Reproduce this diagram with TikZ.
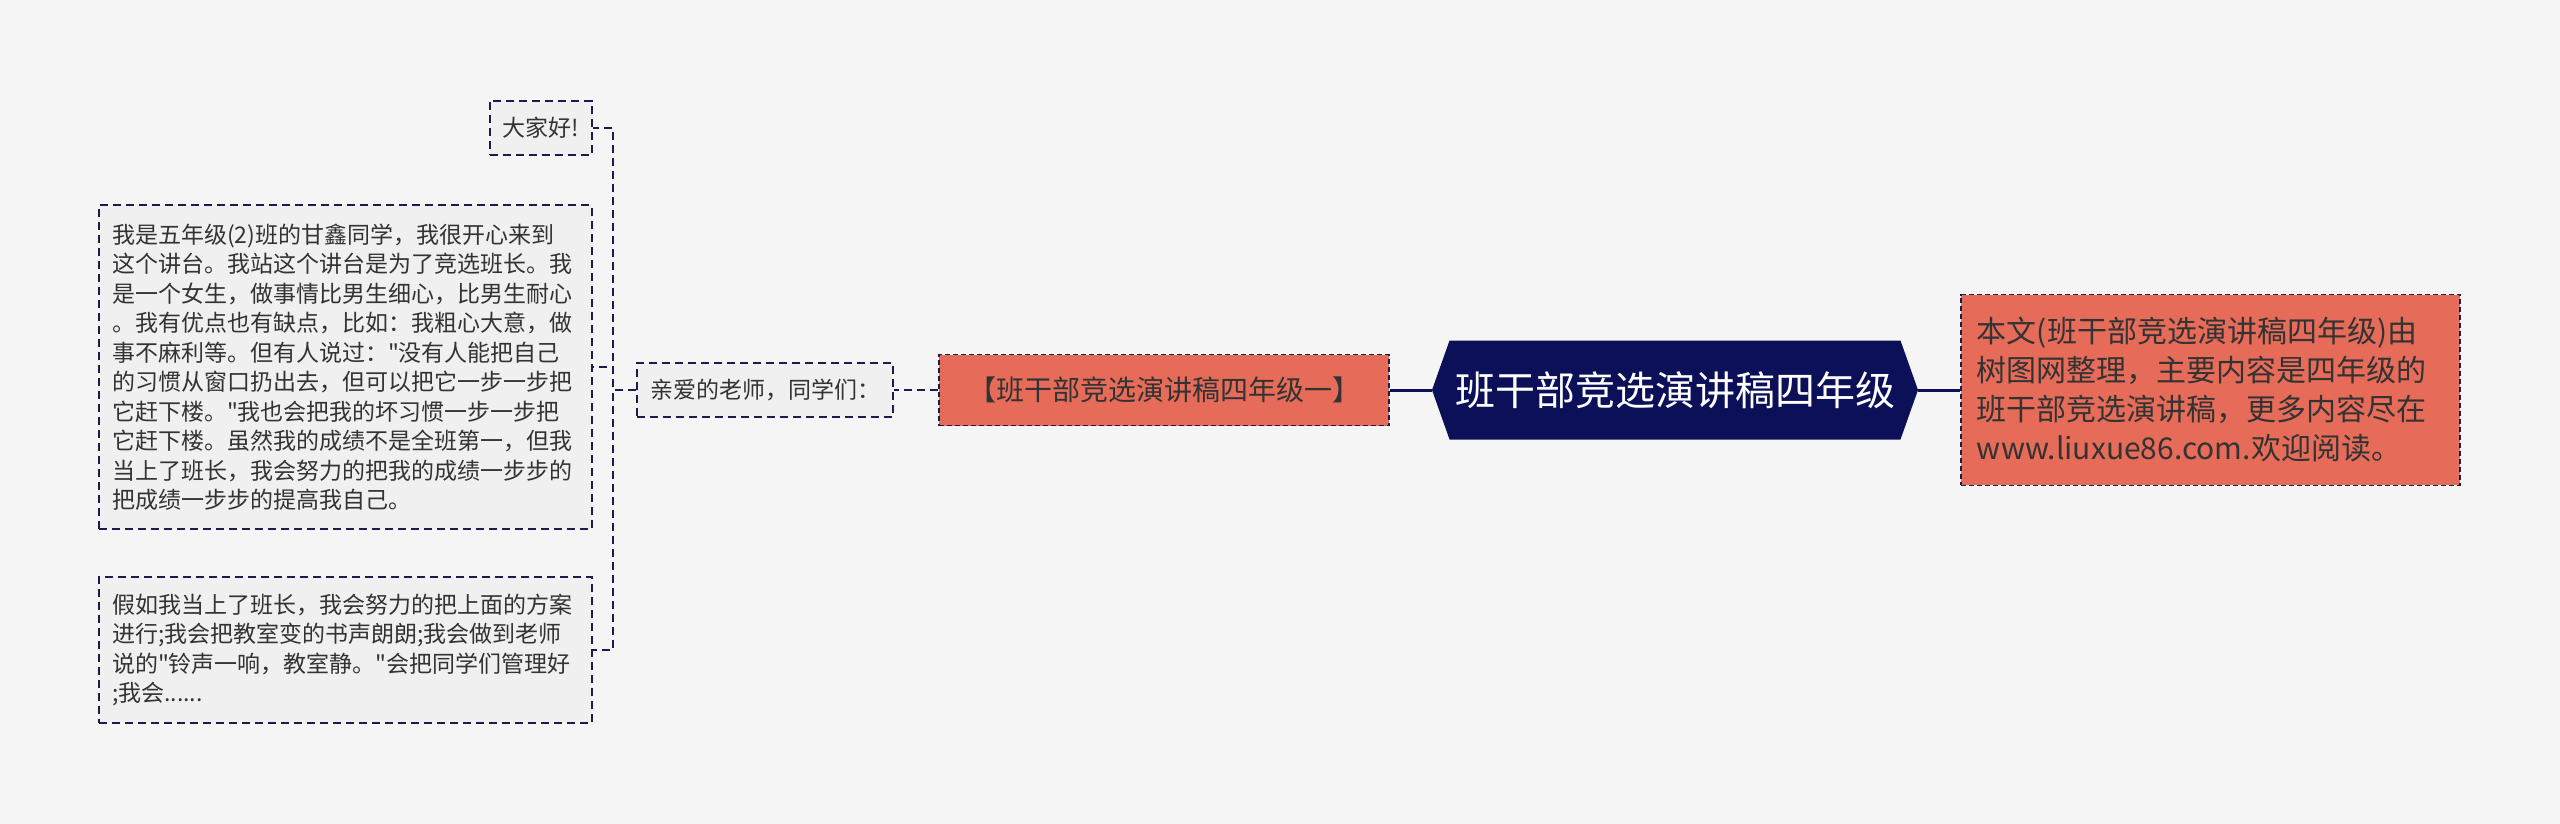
\documentclass[tikz,border=0pt]{standalone}
\usepackage{fontspec}
\setmainfont[Ligatures=TeXOff]{Noto Sans CJK SC}
\usetikzlibrary{positioning,shapes.symbols}
\definecolor{bgcol}{HTML}{F5F5F5}
\definecolor{leafcol}{HTML}{F0F0F0}
\definecolor{linecol}{HTML}{1A1C4E}
\definecolor{navycol}{HTML}{0C1059}
\definecolor{salmoncol}{HTML}{E66C59}
\definecolor{textcol}{HTML}{333333}

\begin{document}
\begin{tikzpicture}[
    x=1pt, y=1pt,
    node distance=42pt,
    topic/.style={signal, signal to=west and east, signal pointer angle=141,
      fill=navycol, text=white, inner sep=0pt, minimum width=486pt, minimum height=99pt,
      font={\fontsize{40}{48}\selectfont}},
    headline/.style={draw=linecol, line width=1.5pt, dash pattern=on 5pt off 3pt,
      fill=salmoncol, text=textcol, inner xsep=29pt, minimum height=71pt,
      font={\fontsize{28}{34}\selectfont}},
    summary/.style={draw=linecol, line width=1.5pt, dash pattern=on 5pt off 3pt,
      fill=salmoncol, text=textcol, text width=467pt, align=left,
      inner xsep=16pt, inner ysep=23pt, font={\fontsize{30}{39}\selectfont}},
    leaf/.style={draw=linecol, line width=2pt, dash pattern=on 8pt off 5pt,
      fill=leafcol, text=textcol, inner xsep=13pt, minimum height=54pt,
      font={\fontsize{23}{29.5}\selectfont}},
    para/.style={leaf, text width=467pt, align=left, inner ysep=17pt},
    link/.style={draw=linecol, line width=2pt, dash pattern=on 8pt off 5pt},
    bond/.style={draw=navycol, line width=3pt}
  ]
    \path[fill=bgcol, use as bounding box] (0,0) rectangle (2560,-824);

    \node[topic] (main) at (1675,-390) {班干部竞选演讲稿四年级};
    \node[headline, left=of main] (sub) {【班干部竞选演讲稿四年级一】};
    \node[summary, right=of main] (info) {本文(班干部竞选演讲稿四年级)由\\树图网整理，主要内容是四年级的\\班干部竞选演讲稿，更多内容尽在\\www.liuxue86.com.欢迎阅读。};
    \node[leaf, left=44pt of sub] (dear) {亲爱的老师，同学们：};

    \node[leaf, anchor=east] (hello) at (593,-128) {大家好!};
    \node[para, anchor=east, inner ysep=18pt] (intro) at (593,-367) {我是五年级(2)班的甘鑫同学，我很开心来到\\这个讲台。我站这个讲台是为了竞选班长。我\\是一个女生，做事情比男生细心，比男生耐心\\。我有优点也有缺点，比如：我粗心大意，做\\事不麻利等。但有人说过："没有人能把自己\\的习惯从窗口扔出去，但可以把它一步一步把\\它赶下楼。"我也会把我的坏习惯一步一步把\\它赶下楼。虽然我的成绩不是全班第一，但我\\当上了班长，我会努力的把我的成绩一步步的\\把成绩一步步的提高我自己。};
    \node[para, anchor=east] (plan) at (593,-650) {假如我当上了班长，我会努力的把上面的方案\\进行;我会把教室变的书声朗朗;我会做到老师\\说的"铃声一响，教室静。"会把同学们管理好\\;我会......};

    \draw[bond] (sub.east) -- (main.west);
    \draw[bond] (main.east) -- (info.west);
    \draw[link] (sub.west) -- (dear.east);
    \draw[link] (dear.west) -- ++(-23,0) |- (hello.east);
    \draw[link] (dear.west) -- ++(-23,0) |- (intro.east);
    \draw[link] (dear.west) -- ++(-23,0) |- (plan.east);
  \end{tikzpicture}
\end{document}
